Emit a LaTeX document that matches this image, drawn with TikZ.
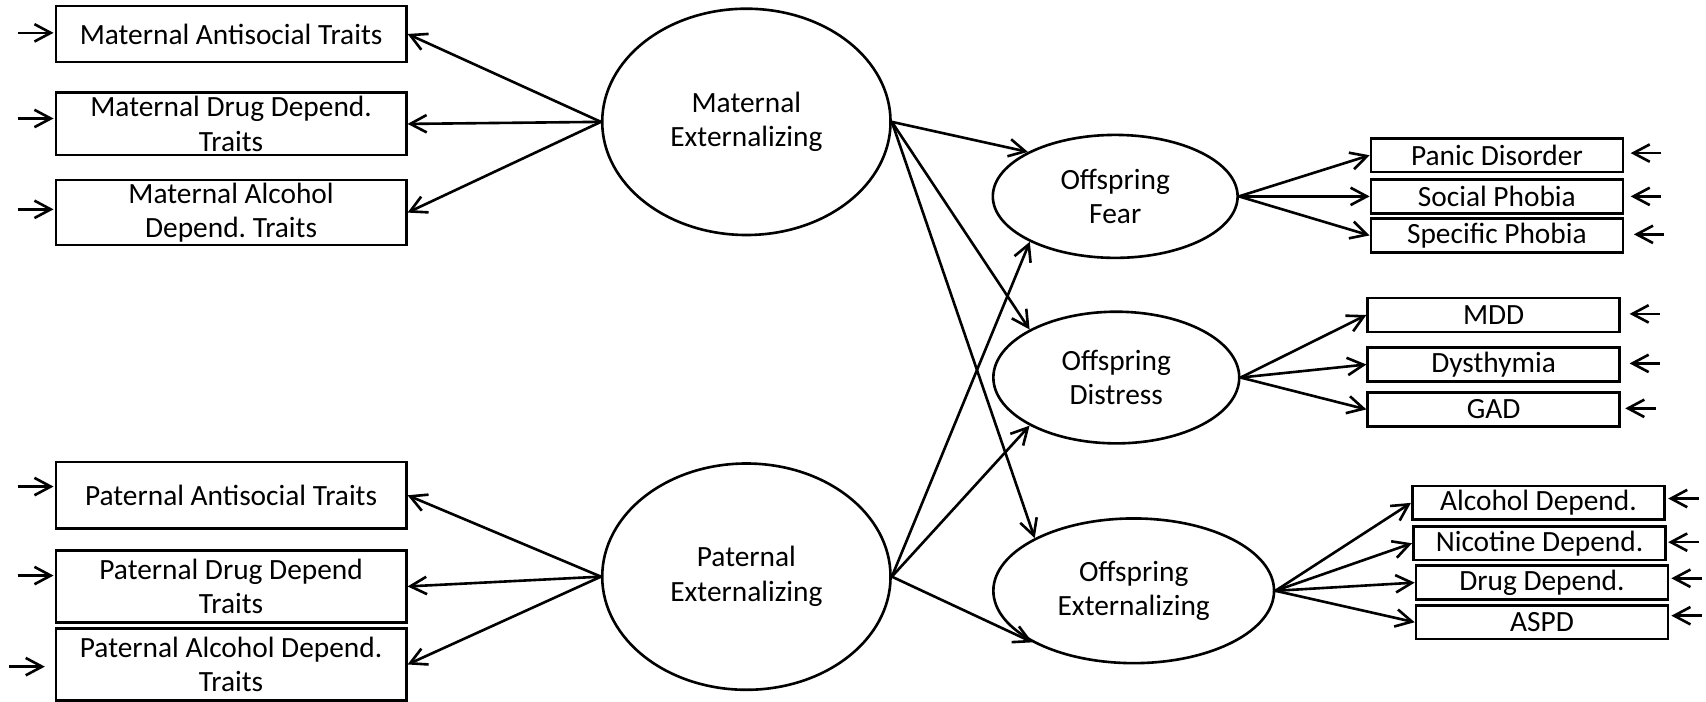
\documentclass[tikz,border=0pt]{standalone}
\usepackage{fontspec}
\setmainfont{Carlito}
\usetikzlibrary{shapes.geometric,arrows.meta,calc}
\frenchspacing

\begin{document}
\begin{tikzpicture}[x=1pt,y=-1pt,line width=2.4pt,
	>={Straight Barb[length=15pt,width=16pt]},
	every node/.style={font=\fontsize{27}{32}\selectfont,inner sep=0pt,align=center},
	trait/.style={draw,rectangle,minimum width=322pt},
	symp/.style={draw,rectangle,minimum width=231.5pt,minimum height=31pt},
	latent/.style={draw,ellipse}]
	\useasboundingbox (0,0) rectangle (1568,645);
	\node[latent,minimum width=265pt,minimum height=208pt] (mat) at (686,112) {Maternal\\Externalizing};
	\node[latent,minimum width=265pt,minimum height=208pt] (pat) at (686,530) {Paternal\\Externalizing};
	\node[latent,minimum width=225pt,minimum height=113pt] (fear) at (1025,180.5) {Offspring\\Fear};
	\node[latent,minimum width=226pt,minimum height=121pt] (distress) at (1026,347) {Offspring\\Distress};
	\node[latent,minimum width=258pt,minimum height=133pt] (ext) at (1042,543) {Offspring\\Externalizing};
	\node[trait,minimum height=51.5pt] (b1) at (212.4,31.2) {Maternal Antisocial Traits};
	\node[trait,minimum height=57.3pt] (b2) at (212.4,113.9) {Maternal Drug Depend.\\Traits};
	\node[trait,minimum height=59.8pt] (b3) at (212.4,195.4) {Maternal Alcohol\\Depend. Traits};
	\node[trait,minimum height=61.3pt] (b4) at (212.4,455.2) {Paternal Antisocial Traits};
	\node[trait,minimum height=66.5pt] (b5) at (212.4,539) {Paternal Drug Depend\\Traits};
	\node[trait,minimum height=65.9pt] (b6) at (212.4,610.7) {Paternal Alcohol Depend.\\Traits};
	\node[symp] (panic) at (1375.8,142.7) {Panic Disorder};
	\node[symp] (social) at (1375.8,180.5) {Social Phobia};
	\node[symp] (specific) at (1375.8,216.4) {Specific Phobia};
	\node[symp] (mdd) at (1372.8,289.5) {MDD};
	\node[symp] (dys) at (1372.8,335) {Dysthymia};
	\node[symp] (gad) at (1372.8,376.3) {GAD};
	\node[symp,minimum width=232pt] (alc) at (1414,462.2) {Alcohol Depend.};
	\node[symp,minimum width=232pt] (nic) at (1415,499.3) {Nicotine Depend.};
	\node[symp] (drug) at (1417.2,535.5) {Drug Depend.};
	\node[symp] (aspd) at (1417.2,571.9) {ASPD};
	\foreach \b in {b1,b2,b3} \draw[->] (mat.west) -- (\b.east);
	\foreach \b in {b4,b5,b6} \draw[->] (pat.west) -- (\b.east);
	\foreach \b/\dy/\g in {b1/-1/1,b2/-5/1,b3/-3/1,b4/-8/1,b5/-10/1,b6/2/9}
		\draw[->] ($(\b.west)+(-\g-33,\dy)$) -- ($(\b.west)+(-\g,\dy)$);
	\draw[->] (mat.east) -- (fear.153);
	\draw[->] (mat.east) -- (distress.151);
	\draw[->] (mat.east) -- (ext.152);
	\draw[->] (pat.east) -- (fear.208);
	\draw[->] (pat.east) -- (distress.209);
	\draw[->] (pat.east) -- (ext.207);
	\foreach \b in {panic,social,specific} \draw[->] (fear.east) -- (\b.west);
	\foreach \b in {mdd,dys,gad} \draw[->] (distress.east) -- (\b.west);
	\foreach \b in {alc,nic,drug,aspd} \draw[->] (ext.east) -- (\b.west);
	\foreach \b/\dy/\g in {panic/-2/6,social/0/6,specific/-1/9,mdd/-1/8,dys/-1/8,gad/-1/4,alc/-4/2,nic/-1/1,drug/-4/2,aspd/-6/2}
		\draw[->] ($(\b.east)+(\g+28,\dy)$) -- ($(\b.east)+(\g,\dy)$);
\end{tikzpicture}
\end{document}
